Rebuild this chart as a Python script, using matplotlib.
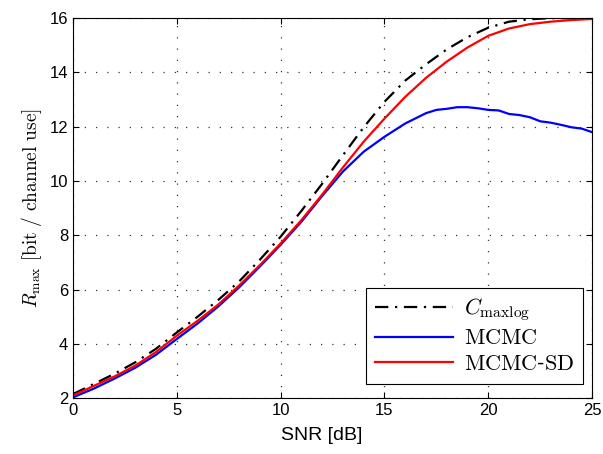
import numpy as np
import matplotlib
matplotlib.use("Agg")
import matplotlib.pyplot as plt

plt.rcParams['mathtext.fontset'] = 'cm'
plt.rcParams['font.family'] = ['Liberation Sans', 'DejaVu Sans']

# ------------------------------------------------------------------
# Datos
# ------------------------------------------------------------------
snr = [0, 1, 2, 3, 4, 5, 6, 7, 8, 9, 10, 11, 12, 13, 14, 15, 16, 17, 18,
       19, 20, 21, 22, 23, 24, 25]
c_maxlog = [2.15, 2.52, 2.90, 3.32, 3.82, 4.42, 5.00, 5.62, 6.30, 7.10,
            7.95, 8.90, 9.90, 10.95, 11.98, 12.92, 13.70, 14.30, 14.85,
            15.30, 15.65, 15.87, 15.96, 16.00, 16.00, 16.00]
mcmc_sd = [2.10, 2.45, 2.80, 3.20, 3.70, 4.30, 4.85, 5.45, 6.15, 6.90,
           7.70, 8.56, 9.50, 10.50, 11.45, 12.30, 13.10, 13.80, 14.40,
           14.92, 15.35, 15.62, 15.78, 15.87, 15.93, 15.97]

snr_mcmc = [0, 1, 2, 3, 4, 5, 6, 7, 8, 9, 10, 11, 12, 13, 14, 15, 16, 17,
            17.5, 18, 18.5, 19, 19.5, 20, 20.5, 21, 21.5, 22, 22.5, 23,
            23.5, 24, 24.5, 25]
mcmc = [2.03, 2.35, 2.72, 3.12, 3.60, 4.18, 4.75, 5.38, 6.08, 6.85, 7.65,
        8.50, 9.45, 10.35, 11.08, 11.63, 12.12, 12.50, 12.62, 12.66, 12.72,
        12.72, 12.68, 12.62, 12.60, 12.47, 12.43, 12.35, 12.20, 12.15,
        12.07, 11.98, 11.93, 11.80]

# ------------------------------------------------------------------
# Figura
# ------------------------------------------------------------------
fig = plt.figure(figsize=(6.03, 4.54), dpi=100)
ax = fig.add_axes([0.121, 0.123, 0.861, 0.837])

ax.plot(snr, c_maxlog, color='black', linewidth=1.6,
        dashes=[6, 3, 1, 3], label=r'$C_{\mathrm{maxlog}}$')
ax.plot(snr_mcmc, mcmc, color='blue', linewidth=1.6,
        label=r'$\mathrm{MCMC}$')
ax.plot(snr, mcmc_sd, color='red', linewidth=1.6,
        label=r'$\mathrm{MCMC}$-$\mathrm{SD}$')

ax.set_xlim(0, 25)
ax.set_ylim(2, 16)
ax.set_xticks([0, 5, 10, 15, 20, 25])
ax.set_yticks([2, 4, 6, 8, 10, 12, 14, 16])
ax.tick_params(direction='in', top=True, right=True, labelsize=12,
               length=4, width=0.8)
ax.grid(True, linestyle=(0, (1, 8)), color='black', linewidth=0.9,
        alpha=0.8)
for spine in ax.spines.values():
    spine.set_linewidth(0.8)

ax.set_xlabel('SNR [dB]', fontsize=14, family=['Liberation Sans'])
ax.xaxis.set_label_coords(0.48, -0.075)
ax.set_ylabel(r'$R_{\max}\ \mathrm{[bit\ /\ channel\ use]}$', fontsize=14)

leg = ax.legend(loc='lower right', fontsize=16, handlelength=3.5,
                fancybox=False, edgecolor='black', framealpha=1,
                borderaxespad=0, labelspacing=0.22, handletextpad=0.5,
                borderpad=0.4, bbox_to_anchor=(0.983, 0.037))
leg.get_frame().set_linewidth(0.8)

fig.savefig('out.png', dpi=100)
